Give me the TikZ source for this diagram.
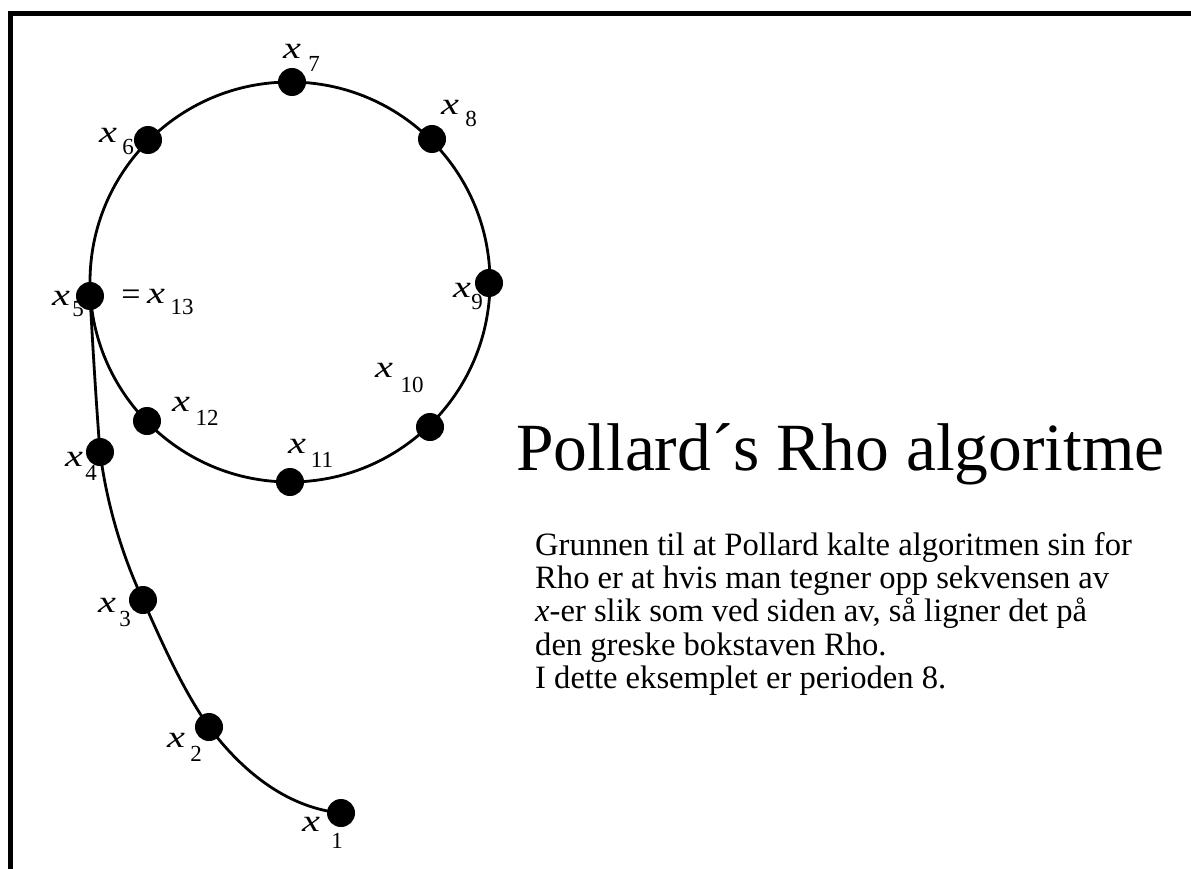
\documentclass[tikz,border=0pt]{standalone}
\usepackage{fontspec}
\usepackage{graphicx}
\setmainfont{Liberation Serif}
\newcommand{\xvar}{\scalebox{1.3}[1]{\itshape x}}
\newcommand{\bodyfont}{\fontsize{32.6}{33.3}\selectfont\setlength{\lineskiplimit}{-100pt}\setlength{\lineskip}{0pt}}
\tikzset{
  dot/.style={circle,fill=black,inner sep=0pt,minimum size=28pt},
  curve/.style={line width=2.8pt},
  xl/.style={inner sep=0pt,font=\fontsize{31}{31}\selectfont},
  sb/.style={inner sep=0pt,font=\fontsize{23}{23}\selectfont},
  frame/.style={line width=5pt}
}
\begin{document}
\begin{tikzpicture}[x={(1pt,0)},y={(0,-1pt)}]
\useasboundingbox (0,0) rectangle (1191,869);
% frame
\coordinate (ftl) at (10,14);
\coordinate (ftr) at (1191,14);
\coordinate (fbl) at (10,869);
\draw[frame] (ftr) -- (ftl) -- (fbl);
% labels (behind dots)
\node[xl] (l7) at (292,51) {\xvar};  \node[sb] (s7) at (314,64) {7};
\node[xl] (l8) at (450,107) {\xvar}; \node[sb] (s8) at (471,119) {8};
\node[xl] (l6) at (108,135) {\xvar}; \node[sb] (s6) at (128,147) {6};
\node[xl] (l5) at (61,298) {\xvar};  \node[sb] (s5) at (78,309) {5};
\node[inner sep=0pt,font=\fontsize{34}{34}\selectfont] (eq) at (131,298) {=};
\node[xl] (l13) at (156,296) {\xvar}; \node[sb] (s13) at (182,307) {13};
\node[xl] (l9) at (462,290) {\xvar}; \node[sb] (s9) at (477,302) {9};
\node[xl] (l10) at (384,370) {\xvar}; \node[sb] (s10) at (412,385) {10};
\node[xl] (l11) at (297,446) {\xvar}; \node[sb] (s11) at (322,460) {11};
\node[xl] (l12) at (181,404) {\xvar}; \node[sb] (s12) at (207,418) {12};
\node[xl] (l4) at (74,459) {\xvar};  \node[sb] (s4) at (91,473) {4};
\node[xl] (l3) at (107,605) {\xvar}; \node[sb] (s3) at (125,619) {3};
\node[xl] (l2) at (176,740) {\xvar}; \node[sb] (s2) at (196,754) {2};
\node[xl] (l1) at (311,824) {\xvar}; \node[sb] (s1) at (337,841) {1};
% circle
\coordinate (c) at (290,282);
\draw[curve] (c) circle[radius=200];
% dots
\node[dot] (x1) at (341,813) {};
\node[dot] (x2) at (209,727) {};
\node[dot] (x3) at (143,600) {};
\node[dot] (x4) at (100,452) {};
\node[dot] (x5) at (90,296) {};
\node[dot] (x6) at (148,140) {};
\node[dot] (x7) at (292,82) {};
\node[dot] (x8) at (432,139) {};
\node[dot] (x9) at (489,283) {};
\node[dot] (x10) at (430,427) {};
\node[dot] (x11) at (290,482) {};
\node[dot] (x12) at (147,421) {};
% tail
\draw[curve] (x5.center) .. controls (93,350) and (96,400) .. (x4.center)
  .. controls (107,505) and (122,555) .. (x3.center)
  .. controls (163,645) and (183,690) .. (x2.center)
  .. controls (245,775) and (290,808) .. (x1.center);
% title
\node[anchor=base west,inner sep=0pt,font=\fontsize{67.5}{67.5}\selectfont] (title) at (516,470) {Pollard´s Rho algoritme};
% body
\node[anchor=north west,inner sep=0pt,align=left,font=\bodyfont] (body) at (535,532)
{Grunnen til at Pollard kalte algoritmen sin for\\
Rho er at hvis man tegner opp sekvensen av\\
\textit{x}-er slik som ved siden av, så ligner det på\\
den greske bokstaven Rho.\\
I dette eksemplet er perioden 8.};
\end{tikzpicture}
\end{document}
